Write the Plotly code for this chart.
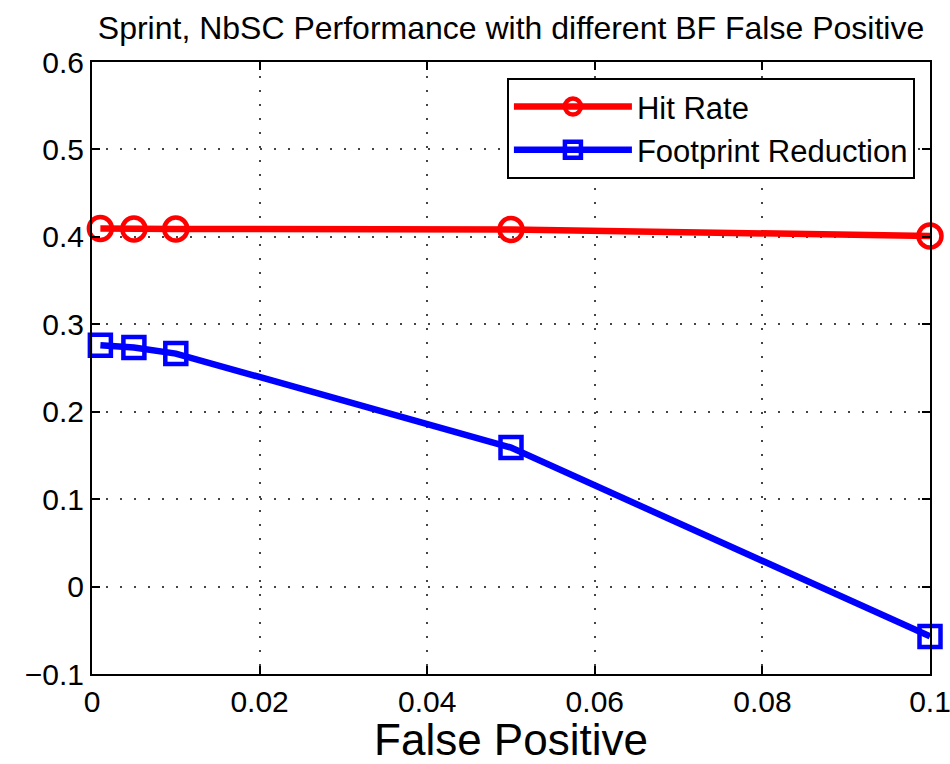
import plotly.graph_objects as go

false_positive = [0.001, 0.005, 0.01, 0.05, 0.1]
hit_rate = [0.4095, 0.409, 0.409, 0.4085, 0.401]
footprint_reduction = [0.276, 0.2735, 0.2665, 0.159, -0.057]

x_ticks = [0, 0.02, 0.04, 0.06, 0.08, 0.1]
x_tick_labels = ["0", "0.02", "0.04", "0.06", "0.08", "0.1"]
y_ticks = [-0.1, 0, 0.1, 0.2, 0.3, 0.4, 0.5, 0.6]
y_tick_labels = ["\u22120.1", "0", "0.1", "0.2", "0.3", "0.4", "0.5", "0.6"]

FONT = "Liberation Sans, Arial, Helvetica, sans-serif"

fig = go.Figure()
fig.add_trace(go.Scatter(
    x=false_positive, y=hit_rate, name="Hit Rate", mode="lines+markers",
    line=dict(color="#ff0000", width=6.5),
    marker=dict(symbol="circle-open", size=23, color="#ff0000", line=dict(width=4.5, color="#ff0000")),
    cliponaxis=False,
))
fig.add_trace(go.Scatter(
    x=false_positive, y=footprint_reduction, name="Footprint Reduction", mode="lines+markers",
    line=dict(color="#0000ff", width=6.5),
    marker=dict(symbol="square-open", size=21, color="#0000ff", line=dict(width=4.5, color="#0000ff")),
    cliponaxis=False,
))

axis_common = dict(
    showline=True, linecolor="black", linewidth=2, mirror="ticks",
    ticks="inside", ticklen=8, tickcolor="black", tickwidth=1.5,
    showgrid=True, gridcolor="#444444", gridwidth=1.5, griddash="1.5px,12.5px",
    zeroline=False, automargin=False,
    tickfont=dict(family=FONT, size=30, color="black"),
    ticklabeloverflow="allow",
)

fig.update_layout(
    width=950, height=764,
    margin=dict(l=92, r=20, t=62, b=90, autoexpand=False),
    paper_bgcolor="white", plot_bgcolor="white",
    title=dict(text="Sprint, NbSC Performance with different BF False Positive",
               x=(92 + 930) / 2 / 950, xanchor="center", y=1 - 28 / 764, yanchor="middle",
               font=dict(family=FONT, size=32, color="black"), automargin=False),
    xaxis=dict(range=[0, 0.1], tickvals=x_ticks, ticktext=x_tick_labels,
               title=dict(text="False Positive", font=dict(family=FONT, size=44, color="black"), standoff=4),
               **axis_common),
    yaxis=dict(range=[-0.1, 0.6], tickvals=y_ticks, ticktext=y_tick_labels, **axis_common),
    legend=dict(x=0.982, xanchor="right", y=0.974, yanchor="top",
                bgcolor="white", bordercolor="black", borderwidth=2,
                font=dict(family=FONT, size=31, color="black"),
                itemwidth=118, tracegroupgap=0),
    showlegend=True,
)

fig.write_html("out.html")
